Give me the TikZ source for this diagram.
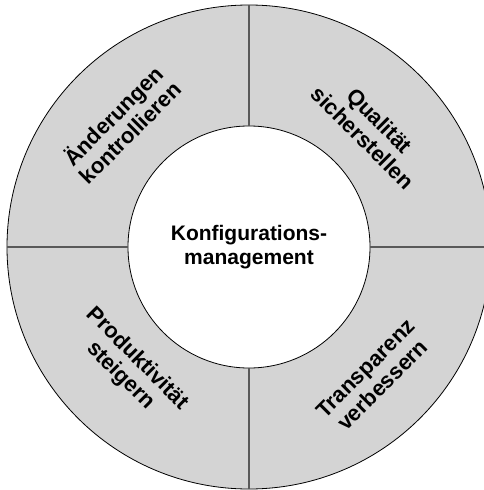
\documentclass[tikz,border=0pt]{standalone}
\usepackage{fontspec}
\setmainfont{Liberation Sans}
\usetikzlibrary{positioning}
\tikzset{
  ring/.style={circle, minimum size=484pt, inner sep=0pt, outer sep=0pt, draw=black, line width=0.8pt, fill=black!17},
  hole/.style={circle, minimum size=242pt, inner sep=0pt, outer sep=0pt, draw=black, line width=0.8pt, fill=white},
  lbl/.style={align=center, font=\bfseries\fontsize{22}{24}\selectfont, inner sep=0pt},
  sep/.style={draw=black!65, line width=1.3pt}
}
\begin{document}
\begin{tikzpicture}[x=1pt,y=1pt]
	\useasboundingbox (-249,-243) rectangle (235,247);
	\node[ring] (ring) at (0,0) {};
	\node[hole, lbl, font=\bfseries\fontsize{21}{24}\selectfont] (kern) at (0,0) {Konfigurations-\\management};
	
	%
	\draw[sep] (kern.north) -- (ring.north);
	\draw[sep] (kern.south) -- (ring.south);
	\draw[sep] (kern.west) -- (ring.west);
	\draw[sep] (kern.east) -- (ring.east);
	
	\node[lbl, rotate=45] (aend) at (136:178) {Änderungen\\kontrollieren};
	\node[lbl, rotate=-45] (qual) at (44:170) {Qualität\\sicherstellen};
	\node[lbl, rotate=-45] (prod) at (225:170) {Produktivität\\steigern};
	\node[lbl, rotate=45] (trans) at (-46:180) {Transparenz\\verbessern};
\end{tikzpicture}
\end{document}
